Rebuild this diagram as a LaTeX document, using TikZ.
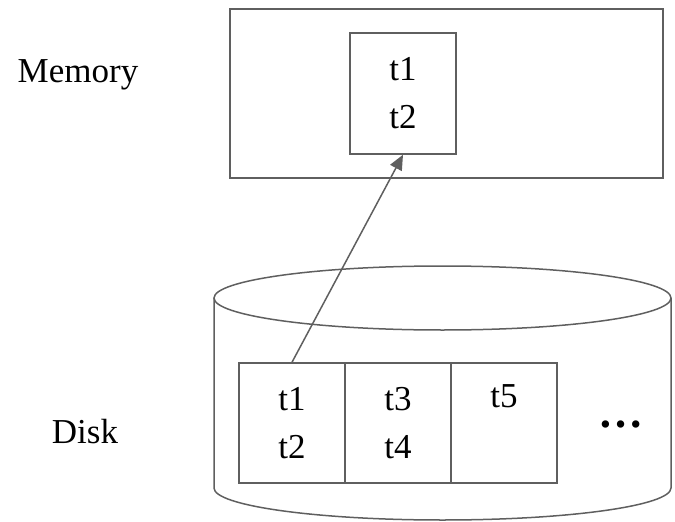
\documentclass[tikz,border=0pt]{standalone}
\usepackage{fontspec}
\setmainfont{Liberation Serif}
\usetikzlibrary{arrows.meta}
\definecolor{linegray}{HTML}{5F5F5F}
\tikzset{
  box/.style={draw=linegray, line width=1.5pt},
  cell/.style={draw=linegray, line width=1.5pt, minimum width=106pt, minimum height=120pt, inner sep=0pt, align=center, font=\fontsize{35}{48}\selectfont},
  lbl/.style={font=\fontsize{35}{42}\selectfont, inner sep=0pt},
  link/.style={draw=linegray, line width=1.5pt, -{Triangle[length=15pt,width=13pt]}}
}
\begin{document}
\begin{tikzpicture}[x=1pt,y=-1pt]
\useasboundingbox (0,0) rectangle (675,522);
% memory
\node[box, minimum width=433pt, minimum height=169pt, inner sep=0pt] (memory) at (446.5,93.5) {};
\node[cell, minimum height=121pt] (mem) at (403,93.5) {t1\\t2};
\node[lbl] (memlbl) at (78,75) {Memory};
% disk cylinder
\draw[box] (214,298) -- (214,488) arc[start angle=180, end angle=360, x radius=228.5pt, y radius=32pt] -- (671,298);
\draw[box] (442.5,298) ellipse[x radius=228.5pt, y radius=32pt];
\node[lbl] (disklbl) at (85,432) {Disk};
% cells
\node[cell] (c1) at (292,423) {t1\\t2};
\node[cell] (c2) at (398,423) {t3\\t4};
\node[cell] (c3) at (504,423) {};
\node[font=\fontsize{35}{48}\selectfont, inner sep=0pt] (t5) at (504,396) {t5};
\node[font=\bfseries\fontsize{45}{48}\selectfont, inner sep=0pt, anchor=base] (dots) at (621,427) {…};
% arrow
\draw[link] (c1.north) -- (mem.south);
\end{tikzpicture}
\end{document}
